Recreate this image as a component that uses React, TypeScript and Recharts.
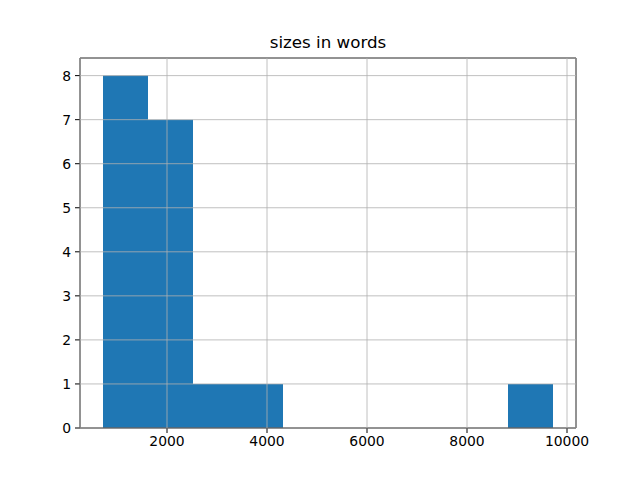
import { Bar, CartesianGrid, ComposedChart, XAxis, YAxis } from "recharts";

// histogram of document sizes, 10 bins
const binLefts = [720, 1620, 2520, 3420, 4320, 5220, 6120, 7020, 7920, 8820];
const counts = [8, 7, 1, 1, 0, 0, 0, 0, 0, 1];
const binWidth = 900;
const xTicks = [2000, 4000, 6000, 8000, 10000];
const yTicks = [0, 1, 2, 3, 4, 5, 6, 7, 8];

const data = binLefts.map((left, i) => ({ center: left + binWidth / 2, count: counts[i] }));

const font = "DejaVu Sans, sans-serif";
const tickStyle = { fill: "#000", fontSize: 13.9, fontFamily: font };
const xDomain = [260, 10180];

export default function App() {
  return (
    <div style={{ position: "absolute", left: 0, top: 0, width: 640, height: 480, background: "#fff" }}>
      <div
        style={{
          position: "absolute",
          left: 80,
          width: 496,
          top: 32,
          textAlign: "center",
          fontFamily: font,
          fontSize: 16.7,
          color: "#000",
        }}
      >
        sizes in words
      </div>
      <ComposedChart
        width={640}
        height={480}
        data={data}
        margin={{ top: 57, right: 63, bottom: 0, left: 0 }}
        barCategoryGap={0}
      >
        <XAxis
          dataKey="center"
          type="number"
          domain={xDomain}
          ticks={xTicks}
          allowDataOverflow
          height={52}
          tick={tickStyle}
          tickSize={5}
          tickMargin={3}
          stroke="#000"
        />
        <XAxis
          xAxisId="top"
          orientation="top"
          dataKey="center"
          type="number"
          domain={xDomain}
          ticks={xTicks}
          tick={false}
          tickLine={false}
          height={1}
          stroke="#000"
        />
        <YAxis
          type="number"
          domain={[0, 8.4]}
          ticks={yTicks}
          width={80}
          tick={tickStyle}
          tickSize={5}
          tickMargin={4}
          stroke="#000"
        />
        <YAxis
          yAxisId="right"
          orientation="right"
          type="number"
          domain={[0, 8.4]}
          ticks={yTicks}
          tick={false}
          tickLine={false}
          width={1}
          stroke="#000"
        />
        <Bar dataKey="count" fill="#1f77b4" isAnimationActive={false} />
        <CartesianGrid stroke="#b0b0b0" strokeWidth={0.8} zIndex={600} />
      </ComposedChart>
    </div>
  );
}
